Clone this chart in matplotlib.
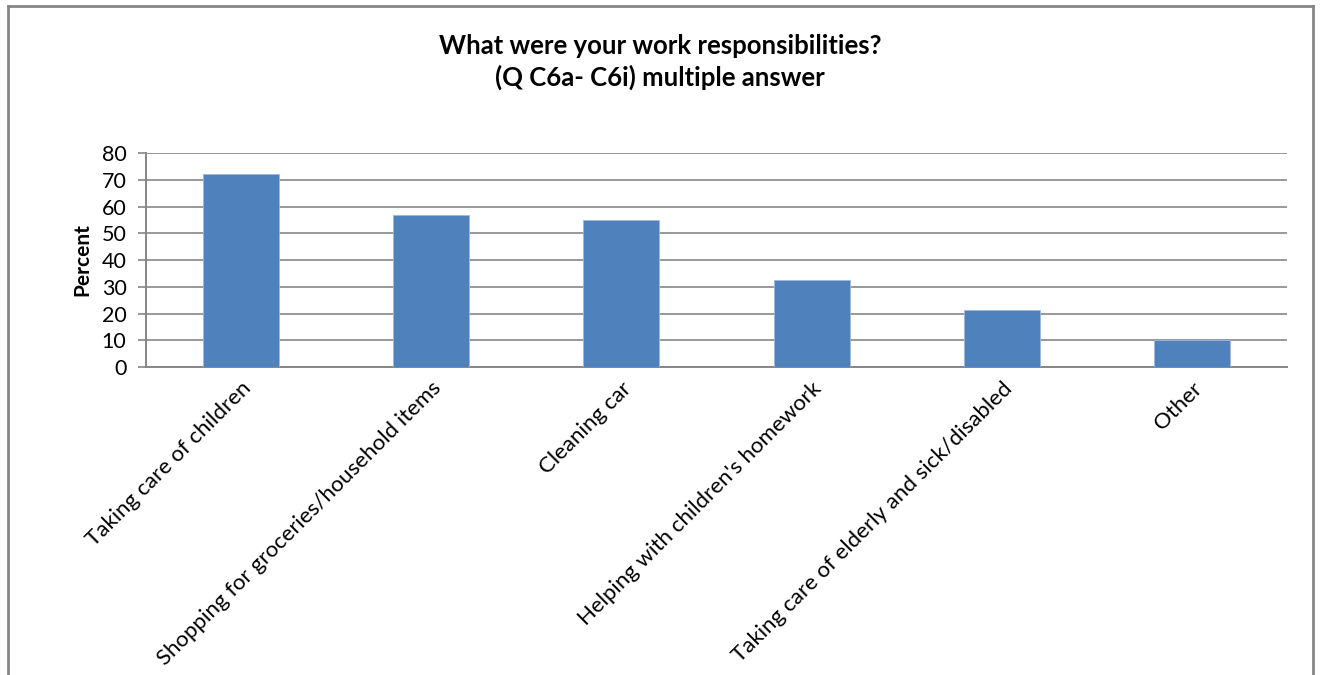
import matplotlib
matplotlib.use("Agg")
from matplotlib import pyplot as plt
from matplotlib.lines import Line2D

categories = [
    "Taking care of children",
    "Shopping for groceries/household items",
    "Cleaning car",
    "Helping with children's homework",
    "Taking care of elderly and sick/disabled",
    "Other",
]
percent = [72.3, 56.7, 55.1, 32.6, 21.4, 10.2]
y_ticks = [0, 10, 20, 30, 40, 50, 60, 70, 80]

plt.rcParams["font.family"] = ["Lato", "DejaVu Sans"]

fig = plt.figure(figsize=(13.21, 6.75), dpi=100)
ax = fig.add_axes([0.1105, 0.4563, 0.8638, 0.317])

x = list(range(len(categories)))
ax.bar(x, percent, width=0.4, color="#4F81BD", edgecolor="#9DB9DE", linewidth=0.6, zorder=3)

ax.set_xlim(-0.5, len(categories) - 0.5)
ax.set_ylim(0, 80)
ax.set_yticks(y_ticks)
ax.set_yticklabels([str(v) for v in y_ticks], fontsize=15.5)
ax.grid(axis="y", color="#868686", linewidth=1.2, zorder=0)
ax.set_xticks(x)
ax.set_xticklabels(categories, rotation=45, ha="right", rotation_mode="anchor", fontsize=16)
ax.tick_params(axis="x", length=0, pad=8)
ax.tick_params(axis="y", length=6, color="#868686", width=1.2, pad=8)

for side in ("top", "right"):
    ax.spines[side].set_visible(False)
for side in ("left", "bottom"):
    ax.spines[side].set_color("#868686")
    ax.spines[side].set_linewidth(1.4)

ax.set_ylabel("Percent", fontsize=15, fontweight="bold", labelpad=7)

fig.text(0.4995, 0.908, "What were your work responsibilities?\n(Q C6a- C6i) multiple answer",
         ha="center", va="center", fontsize=18.5, fontweight="bold", linespacing=1.3)

# chart border (bottom edge is cut off in the source)
border = dict(color="#868686", linewidth=2, transform=fig.transFigure)
left, right, top = 8 / 1321, 1313 / 1321, 1 - 6 / 675
fig.add_artist(Line2D([left, left], [0, top], **border))
fig.add_artist(Line2D([right, right], [0, top], **border))
fig.add_artist(Line2D([left, right], [top, top], **border))

fig.savefig("out.png", dpi=100)
